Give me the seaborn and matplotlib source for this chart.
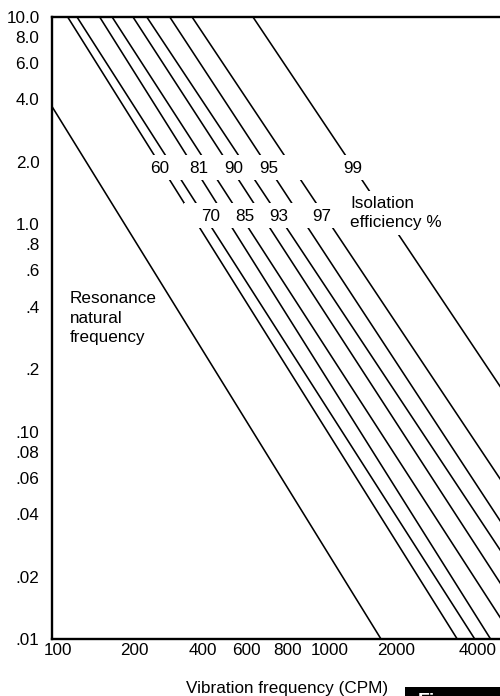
import matplotlib
matplotlib.use("Agg")
import numpy as np
import pandas as pd
import seaborn as sns
import matplotlib.pyplot as plt
import matplotlib.transforms as mtransforms
from matplotlib.patches import Rectangle
from matplotlib.ticker import NullLocator

# isolation efficiency lines (percent) and where each one meets the top (10.0 in)
# and the bottom (.01 in) of the chart in CPM
efficiency = [60, 70, 81, 85, 90, 93, 95, 97, 99]
freq_top = [115, 125, 153, 171, 206, 233, 286, 349, 601]
freq_bottom = [3720, 4350, 5010, 6180, 7550, 9240, 10900, 14150, 24650]
defl_top = 10.0
defl_bottom = 0.01

# resonance (natural frequency) line
resonance_freq = [100, 1884]
resonance_defl = [3.7, 0.01]

x_ticks = [100, 200, 400, 600, 800, 1000, 2000, 4000]
x_tick_labels = ["100", "200", "400", "600", "800", "1000", "2000", "4000"]
y_ticks = [10, 8, 6, 4, 2, 1, 0.8, 0.6, 0.4, 0.2, 0.1, 0.08, 0.06, 0.04, 0.02, 0.01]
y_tick_labels = ["10.0", "8.0", "6.0", "4.0", "2.0", "1.0", ".8", ".6", ".4", ".2",
                 ".10", ".08", ".06", ".04", ".02", ".01"]

# long form table for seaborn
rows = []
for e, f0, f1 in zip(efficiency, freq_top, freq_bottom):
    rows.append({"line": str(e), "freq": f0, "deflection": defl_top})
    rows.append({"line": str(e), "freq": f1, "deflection": defl_bottom})
for f, d in zip(resonance_freq, resonance_defl):
    rows.append({"line": "resonance", "freq": f, "deflection": d})
df = pd.DataFrame(rows)

sns.set_theme(style="white")
plt.rcParams["font.family"] = ["Liberation Sans", "DejaVu Sans"]
plt.rcParams["text.color"] = "black"

fig = plt.figure(figsize=(5, 6.96), dpi=100)
ax = fig.add_axes([0.104, 0.0819, 0.896, 0.8937])

sns.lineplot(data=df, x="freq", y="deflection", units="line", estimator=None,
             sort=False, color="black", lw=1.15, ax=ax, legend=False, zorder=2)

ax.set_xscale("log")
ax.set_yscale("log")
ax.set_xlim(100, 5450)
ax.set_ylim(0.01, 10)
ax.set_xticks(x_ticks)
ax.set_xticklabels(x_tick_labels)
ax.set_yticks(y_ticks)
ax.set_yticklabels(y_tick_labels)
ax.xaxis.set_minor_locator(NullLocator())
ax.yaxis.set_minor_locator(NullLocator())
ax.tick_params(axis="both", length=0, labelsize=12.3, colors="black")
ax.tick_params(axis="y", pad=9)
ax.tick_params(axis="x", pad=3)
ax.set_xlabel("")
ax.set_ylabel("")

# the printed labels sit a little off their ticks in the original
label_shift_px = [6, 5, -4, -6, 3, 20, 8, 12]
for lab, dx in zip(ax.get_xticklabels(), label_shift_px):
    lab.set_transform(lab.get_transform() +
                      mtransforms.ScaledTranslation(dx / 100, 0, fig.dpi_scale_trans))

for side in ["left", "top", "bottom"]:
    ax.spines[side].set_visible(True)
    ax.spines[side].set_color("black")
    ax.spines[side].set_linewidth(1.7)
ax.spines["right"].set_visible(False)

# white bands where the lines break around the label rows
ax.add_patch(Rectangle((0.214, 0.738), 0.485, 0.040, transform=ax.transAxes,
                       facecolor="white", edgecolor="none", zorder=3))
ax.add_patch(Rectangle((0.2946, 0.661), 0.352, 0.040, transform=ax.transAxes,
                       facecolor="white", edgecolor="none", zorder=3))

# efficiency labels
row1 = [("60", 0.241), ("81", 0.328), ("90", 0.406), ("95", 0.484), ("99", 0.672)]
row2 = [("70", 0.353), ("85", 0.431), ("93", 0.507), ("97", 0.603)]
for txt, xa in row1:
    ax.text(xa, 0.757, txt, transform=ax.transAxes, ha="center", va="center",
            fontsize=12.3, color="black", zorder=4)
for txt, xa in row2:
    ax.text(xa, 0.680, txt, transform=ax.transAxes, ha="center", va="center",
            fontsize=12.3, color="black", zorder=4)

ax.text(0.665, 0.685, "Isolation\nefficiency %", transform=ax.transAxes,
        ha="left", va="center", fontsize=12.3, linespacing=1.35, color="black",
        zorder=4,
        bbox=dict(boxstyle="square,pad=0.3", facecolor="white", edgecolor="none"))
ax.text(0.040, 0.516, "Resonance\nnatural\nfrequency", transform=ax.transAxes,
        ha="left", va="center", fontsize=12.3, linespacing=1.35, color="black",
        zorder=4)

fig.text(287 / 500, 1 - 688 / 696, "Vibration frequency (CPM)", ha="center",
         va="center", fontsize=12.3, color="black")

# cut-off figure caption box at the bottom right
fig.patches.append(Rectangle((405 / 500, 0), 95 / 500, 9 / 696,
                             transform=fig.transFigure, facecolor="black",
                             edgecolor="none"))
fig.text(418 / 500, -10 / 696, "Fig", color="white", fontsize=14,
         fontweight="bold", ha="left", va="baseline")

fig.savefig("out.png", dpi=100)
